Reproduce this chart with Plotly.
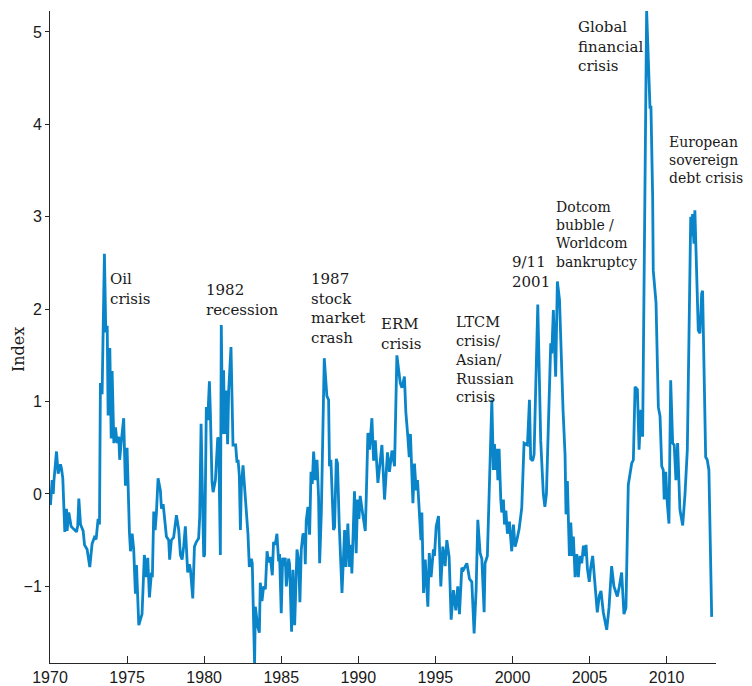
import plotly.graph_objects as go

# ---- data (decimal year, index value) ----
years = [
    1970.03, 1970.14, 1970.21, 1970.25, 1970.42, 1970.53, 1970.68, 1970.75, 1970.83, 1970.96,
    1971.07, 1971.11, 1971.22, 1971.37, 1971.54, 1971.72, 1971.80, 1971.87, 1971.98, 1972.15,
    1972.24, 1972.41, 1972.58, 1972.73, 1972.88, 1972.99, 1973.12, 1973.21, 1973.27, 1973.38,
    1973.53, 1973.62, 1973.71, 1973.77, 1973.88, 1973.97, 1974.03, 1974.14, 1974.25, 1974.35,
    1974.46, 1974.52, 1974.63, 1974.78, 1974.89, 1975.00, 1975.15, 1975.22, 1975.33, 1975.43,
    1975.54, 1975.61, 1975.76, 1975.97, 1976.12, 1976.25, 1976.34, 1976.45, 1976.58, 1976.64,
    1976.73, 1976.82, 1976.90, 1977.01, 1977.16, 1977.23, 1977.34, 1977.55, 1977.70, 1977.76,
    1977.87, 1978.02, 1978.20, 1978.35, 1978.46, 1978.57, 1978.67, 1978.78, 1978.93, 1979.04,
    1979.11, 1979.26, 1979.37, 1979.49, 1979.64, 1979.71, 1979.80, 1979.86, 1979.97, 1980.03,
    1980.14, 1980.23, 1980.34, 1980.40, 1980.51, 1980.58, 1980.73, 1980.88, 1980.94, 1981.05,
    1981.11, 1981.20, 1981.26, 1981.33, 1981.44, 1981.52, 1981.59, 1981.74, 1981.87, 1982.04,
    1982.13, 1982.20, 1982.28, 1982.35, 1982.41, 1982.52, 1982.63, 1982.74, 1982.84, 1982.93,
    1983.06, 1983.12, 1983.27, 1983.32, 1983.47, 1983.58, 1983.64, 1983.75, 1983.86, 1983.97,
    1984.08, 1984.18, 1984.29, 1984.42, 1984.50, 1984.61, 1984.72, 1984.83, 1984.89, 1985.00,
    1985.09, 1985.15, 1985.26, 1985.33, 1985.48, 1985.54, 1985.67, 1985.76, 1985.87, 1986.02,
    1986.13, 1986.21, 1986.30, 1986.41, 1986.51, 1986.56, 1986.62, 1986.73, 1986.84, 1986.93,
    1987.01, 1987.10, 1987.21, 1987.32, 1987.42, 1987.49, 1987.60, 1987.79, 1987.96, 1988.07,
    1988.13, 1988.22, 1988.39, 1988.46, 1988.57, 1988.65, 1988.76, 1988.94, 1989.11, 1989.20,
    1989.32, 1989.43, 1989.52, 1989.58, 1989.75, 1989.86, 1989.95, 1990.04, 1990.12, 1990.27,
    1990.45, 1990.52, 1990.62, 1990.73, 1990.88, 1990.99, 1991.10, 1991.27, 1991.53, 1991.70,
    1991.89, 1992.02, 1992.18, 1992.35, 1992.50, 1992.72, 1992.83, 1992.99, 1993.08, 1993.21,
    1993.30, 1993.38, 1993.54, 1993.64, 1993.75, 1993.84, 1993.97, 1994.06, 1994.12, 1994.23,
    1994.34, 1994.51, 1994.60, 1994.72, 1994.87, 1994.94, 1995.05, 1995.20, 1995.35, 1995.48,
    1995.63, 1995.74, 1995.89, 1996.02, 1996.17, 1996.32, 1996.45, 1996.56, 1996.71, 1996.82,
    1997.04, 1997.21, 1997.36, 1997.51, 1997.64, 1997.75, 1997.90, 1998.01, 1998.16, 1998.22,
    1998.37, 1998.66, 1998.76, 1998.83, 1998.92, 1998.98, 1999.05, 1999.13, 1999.24, 1999.30,
    1999.41, 1999.48, 1999.57, 1999.67, 1999.80, 1999.95, 2000.06, 2000.17, 2000.28, 2000.43,
    2000.60, 2000.75, 2000.97, 2001.10, 2001.18, 2001.31, 2001.40, 2001.64, 2001.83, 2002.00,
    2002.10, 2002.20, 2002.48, 2002.55, 2002.65, 2002.80, 2002.91, 2003.05, 2003.28, 2003.41,
    2003.47, 2003.56, 2003.62, 2003.69, 2003.78, 2003.88, 2003.95, 2004.06, 2004.17, 2004.27,
    2004.38, 2004.49, 2004.60, 2004.71, 2004.77, 2004.86, 2004.98, 2005.07, 2005.20, 2005.35,
    2005.50, 2005.63, 2005.74, 2005.89, 2006.11, 2006.26, 2006.43, 2006.58, 2006.80, 2006.93,
    2007.08, 2007.23, 2007.36, 2007.51, 2007.62, 2007.73, 2007.84, 2007.95, 2008.10, 2008.21,
    2008.33, 2008.44, 2008.70, 2008.81, 2008.92, 2008.98, 2009.09, 2009.13, 2009.31, 2009.46,
    2009.57, 2009.68, 2009.78, 2009.84, 2009.94, 2010.04, 2010.15, 2010.26, 2010.39, 2010.49,
    2010.60, 2010.71, 2010.80, 2010.86, 2011.04, 2011.19, 2011.34, 2011.47, 2011.56, 2011.62,
    2011.68, 2011.77, 2011.83, 2011.94, 2012.05, 2012.16, 2012.27, 2012.33, 2012.42, 2012.53,
    2012.63, 2012.74, 2012.92,
]
index_values = [
    -0.12, 0.15, 0.00, 0.13, 0.46, 0.22, 0.32, 0.27, 0.17, -0.41,
    -0.16, -0.40, -0.20, -0.35, -0.38, -0.41, -0.34, -0.05, -0.33, -0.40,
    -0.55, -0.60, -0.79, -0.54, -0.47, -0.49, -0.27, -0.33, 1.20, 1.08,
    2.60, 1.75, 1.82, 0.85, 1.58, 0.60, 1.33, 0.55, 0.72, 0.55,
    0.62, 0.37, 0.58, 0.82, 0.09, 0.50, -0.41, -0.62, -0.43, -0.60,
    -1.08, -0.77, -1.42, -1.30, -0.66, -0.90, -0.69, -1.12, -0.85, -0.90,
    -0.19, -0.39, -0.21, 0.17, 0.04, -0.16, -0.11, -0.46, -0.50, -0.71,
    -0.50, -0.47, -0.23, -0.39, -0.66, -0.71, -0.57, -0.35, -0.85, -0.76,
    -0.82, -1.13, -0.57, -0.52, -0.48, -0.25, 0.76, 0.29, -0.68, -0.66,
    0.94, 0.80, 1.22, 0.90, 0.13, 0.02, 0.15, 0.61, 0.60, -0.66,
    1.83, 0.65, 1.34, 0.65, 1.12, 0.54, 1.12, 1.59, 0.53, 0.53,
    0.34, 0.37, 0.20, -0.39, 0.07, 0.31, 0.07, -0.20, -0.43, -0.79,
    -0.70, -0.75, -1.85, -1.22, -1.43, -1.50, -0.96, -1.16, -1.00, -1.03,
    -0.62, -0.74, -0.68, -0.88, -0.52, -0.55, -0.43, -0.73, -0.65, -1.29,
    -0.69, -0.78, -0.69, -1.00, -0.70, -0.76, -1.49, -0.82, -1.42, -0.60,
    -0.72, -1.17, -0.60, -0.43, -0.45, -0.76, -0.29, -0.14, -0.44, 0.24,
    0.11, 0.46, 0.15, 0.37, -0.03, -0.75, -0.20, 1.47, 1.06, 1.02,
    0.30, 0.37, -0.39, -0.36, 0.38, 0.33, -0.33, -1.07, -0.39, -0.79,
    -0.32, -0.79, -0.55, -0.86, 0.03, -0.64, -0.06, -0.27, -0.02, -0.20,
    -0.40, 0.00, 0.66, 0.48, 0.82, 0.36, 0.58, 0.12, 0.53, -0.06,
    0.45, 0.24, 0.47, 0.30, 1.50, 1.20, 1.15, 1.27, 0.89, 0.62,
    0.40, 0.65, -0.10, 0.33, 0.04, 0.15, -0.17, -0.50, -0.20, -1.07,
    -0.71, -1.22, -0.64, -0.90, -0.60, -0.67, -0.35, -0.24, -1.00, -0.57,
    -0.78, -0.50, -0.68, -1.36, -1.04, -1.26, -1.00, -1.30, -0.80, -0.82,
    -0.75, -0.92, -0.95, -1.51, -1.04, -0.28, -0.64, -0.70, -1.28, -0.75,
    -0.67, 1.02, 0.26, 0.54, 0.26, 0.49, 0.15, 0.49, -0.06, -0.20,
    -0.06, -0.33, -0.18, -0.43, -0.30, -0.62, -0.33, -0.57, -0.50, -0.38,
    -0.15, 0.55, 0.53, 1.02, 0.38, 0.36, 0.43, 2.05, 0.58, 0.00,
    -0.14, 0.00, 1.63, 1.52, 1.99, 1.27, 2.30, 2.10, 0.90, 0.42,
    -0.22, 0.14, -0.24, -0.67, -0.31, -0.67, -0.46, -0.90, -0.65, -0.90,
    -0.67, -0.75, -0.56, -0.67, -0.55, -0.81, -0.95, -0.80, -0.67, -0.95,
    -1.28, -1.10, -1.05, -1.28, -1.47, -1.23, -0.78, -1.00, -1.11, -1.00,
    -0.85, -1.30, -1.23, 0.10, 0.20, 0.33, 0.37, 1.16, 1.13, 0.48,
    0.91, 0.62, 5.23, 4.78, 4.17, 4.20, 3.22, 2.42, 2.07, 0.94,
    0.84, 0.30, 0.26, -0.06, 0.24, -0.10, -0.32, 1.23, 0.55, 0.53,
    0.15, 0.55, 0.15, -0.17, -0.34, 0.00, 0.48, 2.07, 3.00, 2.79,
    3.03, 2.71, 3.07, 2.42, 1.77, 1.74, 2.17, 2.20, 1.41, 0.40,
    0.37, 0.26, -1.33,
]

x_tick_values = [1970, 1975, 1980, 1985, 1990, 1995, 2000, 2005, 2010]
y_tick_values = [-1, 0, 1, 2, 3, 4, 5]

event_labels = [
    "Oil<br>crisis",
    "1982<br>recession",
    "1987<br>stock<br>market<br>crash",
    "ERM<br>crisis",
    "LTCM<br>crisis/<br>Asian/<br>Russian<br>crisis",
    "9/11<br>2001",
    "Dotcom<br>bubble /<br>Worldcom<br>bankruptcy",
    "Global<br>financial<br>crisis",
    "European<br>sovereign<br>debt crisis",
]
# label anchor positions (top-left of each text block, in axis units)
label_x = [1973.79, 1980.01, 1986.82, 1991.36, 1996.15, 1999.84, 2002.70, 2004.12, 2010.05]
label_y = [2.45, 2.33, 2.45, 1.96, 1.97, 2.63, 3.21, 5.17, 3.92]
label_size = [15, 15, 15, 15, 14.5, 15, 14, 15, 14]

fig = go.Figure()
fig.add_trace(go.Scatter(
    x=years, y=index_values, mode="lines",
    line=dict(color="#0A85C9", width=2.8),
    hoverinfo="skip", showlegend=False,
))

for txt, lx, ly, fs in zip(event_labels, label_x, label_y, label_size):
    fig.add_annotation(
        x=lx, y=ly, xref="x", yref="y", text=txt, showarrow=False,
        xanchor="left", yanchor="top", align="left",
        font=dict(family="DejaVu Serif", size=fs, color="#1a1a1a"),
    )

# y-axis title as a rotated annotation so the margins stay fixed
fig.add_annotation(
    x=-0.048, y=0.48, xref="paper", yref="paper", text="Index", showarrow=False,
    textangle=-90, xanchor="center", yanchor="middle",
    font=dict(family="DejaVu Serif", size=16, color="#1a1a1a"),
)

axis_font = dict(family="Liberation Sans, Arial", size=16, color="#1a1a1a")
# the page body adds an 8px offset, so the figure is 8px smaller and margins compensate
fig.update_layout(
    width=744, height=678,
    margin=dict(l=42, r=36, t=3, b=23, autoexpand=False),
    paper_bgcolor="white", plot_bgcolor="white",
    showlegend=False,
    xaxis=dict(
        range=[1970, 2013.2], tickvals=x_tick_values, automargin=False,
        showgrid=False, zeroline=False, showline=True, linecolor="#262626", linewidth=1,
        ticks="inside", ticklen=7, tickcolor="#262626", tickfont=axis_font,
    ),
    yaxis=dict(
        range=[-1.829, 5.227], tickvals=y_tick_values, automargin=False,
        showgrid=False, zeroline=False, showline=True, linecolor="#262626", linewidth=1,
        ticks="outside", ticklen=4, tickcolor="#262626", tickfont=axis_font,
    ),
)

fig.write_html("out.html")
